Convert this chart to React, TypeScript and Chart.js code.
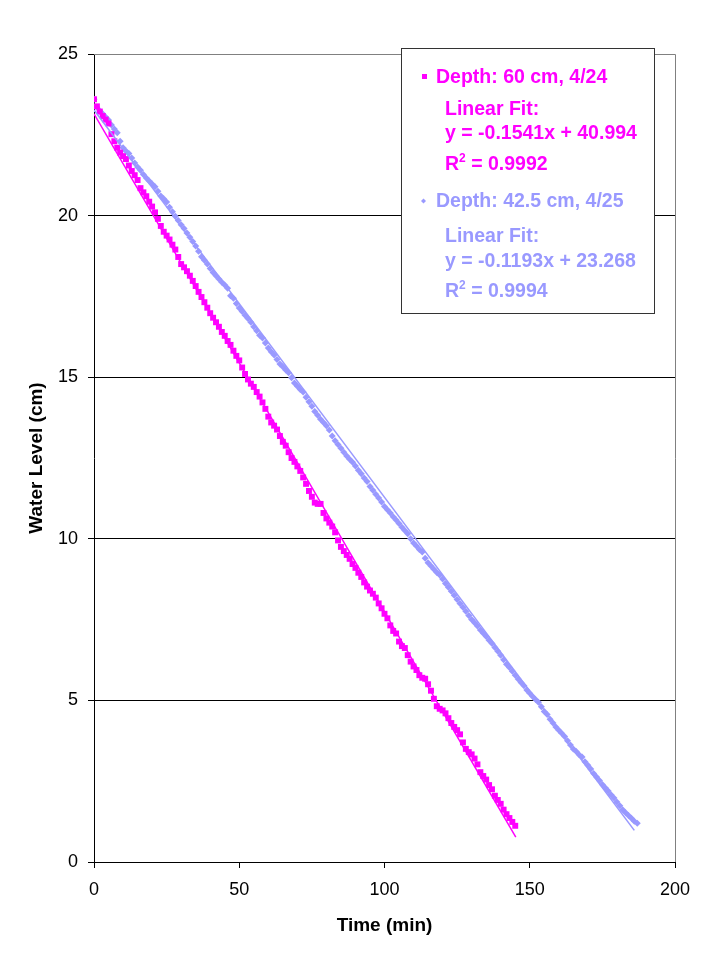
import React, { useEffect, useRef } from 'react';
import { Chart, registerables, Plugin } from 'chart.js';

Chart.register(...registerables);

const MAGENTA = '#FF00FF';
const LAVENDER = '#9999FF';

// water level (cm), one reading per minute from t = 0
// 60 cm, 4/24
const levelA = [
  23.6, 23.38, 23.22, 23.08, 22.97, 22.85, 22.52, 22.3, 22.1, 21.95,
  21.84, 21.75, 21.55, 21.38, 21.25, 21.1, 20.85, 20.72, 20.6, 20.43,
  20.28, 20.1, 19.9, 19.68, 19.5, 19.38, 19.26, 19.1, 18.95, 18.72,
  18.5, 18.4, 18.28, 18.14, 17.98, 17.82, 17.64, 17.48, 17.32, 17.15,
  16.98, 16.84, 16.7, 16.56, 16.4, 16.28, 16.12, 16.0, 15.82, 15.66,
  15.52, 15.3, 15.1, 14.93, 14.8, 14.7, 14.54, 14.4, 14.22, 14.02,
  13.78, 13.6, 13.5, 13.38, 13.18, 13.0, 12.88, 12.68, 12.5, 12.38,
  12.24, 12.1, 11.9, 11.7, 11.48, 11.3, 11.12, 11.08, 11.08, 10.8,
  10.63, 10.5, 10.38, 10.2, 9.95, 9.75, 9.62, 9.5, 9.38, 9.22,
  9.1, 8.95, 8.82, 8.65, 8.52, 8.4, 8.3, 8.18, 8.0, 7.85,
  7.68, 7.54, 7.32, 7.15, 7.07, 6.82, 6.68, 6.62, 6.4, 6.2,
  6.05, 5.94, 5.78, 5.7, 5.67, 5.5, 5.3, 5.05, 4.82, 4.74,
  4.69, 4.6, 4.45, 4.3, 4.18, 4.08, 3.95, 3.7, 3.5, 3.4,
  3.33, 3.2, 3.02, 2.78, 2.66, 2.55, 2.38, 2.25, 2.05, 1.92,
  1.8, 1.62, 1.48, 1.36, 1.24, 1.12,
];

// 42.5 cm, 4/25
const levelB = [
  23.6, 23.35, 23.24, 23.15, 23.05, 22.96, 22.8, 22.68, 22.56, 22.3,
  22.1, 22.0, 21.92, 21.78, 21.63, 21.5, 21.4, 21.27, 21.16, 21.07,
  20.98, 20.89, 20.75, 20.61, 20.52, 20.42, 20.26, 20.12, 19.98, 19.85,
  19.72, 19.6, 19.46, 19.33, 19.2, 19.06, 18.9, 18.73, 18.62, 18.5,
  18.36, 18.24, 18.14, 18.04, 17.94, 17.85, 17.75, 17.52, 17.44, 17.28,
  17.14, 17.03, 16.92, 16.82, 16.7, 16.56, 16.44, 16.3, 16.21, 16.06,
  15.9, 15.79, 15.69, 15.55, 15.41, 15.32, 15.22, 15.14, 14.98, 14.82,
  14.72, 14.62, 14.54, 14.38, 14.24, 14.1, 13.94, 13.82, 13.7, 13.6,
  13.5, 13.37, 13.18, 13.03, 12.92, 12.8, 12.68, 12.56, 12.46, 12.37,
  12.25, 12.12, 12.01, 11.88, 11.77, 11.62, 11.5, 11.38, 11.26, 11.14,
  11.0, 10.9, 10.8, 10.68, 10.58, 10.47, 10.36, 10.26, 10.16, 10.0,
  9.87, 9.78, 9.67, 9.59, 9.4, 9.26, 9.16, 9.06, 8.96, 8.88,
  8.76, 8.62, 8.5, 8.38, 8.25, 8.12, 8.0, 7.88, 7.76, 7.63,
  7.5, 7.4, 7.3, 7.18, 7.08, 6.98, 6.86, 6.76, 6.64, 6.52,
  6.4, 6.26, 6.12, 6.02, 5.9, 5.78, 5.66, 5.55, 5.45, 5.32,
  5.22, 5.12, 5.03, 4.94, 4.8, 4.66, 4.56, 4.42, 4.3, 4.18,
  4.08, 3.98, 3.88, 3.75, 3.62, 3.5, 3.42, 3.32, 3.25, 3.1,
  2.99, 2.88, 2.74, 2.63, 2.52, 2.4, 2.3, 2.2, 2.08, 1.98,
  1.86, 1.74, 1.62, 1.52, 1.44, 1.35, 1.26, 1.2,
];

// trendline end points as drawn
const fitTimeA = [0, 145.2];
const fitLevelA = [23.15, 0.77];
const fitTimeB = [0, 186];
const fitLevelB = [23.27, 0.98];

const legendLinesA = ['Depth: 60 cm, 4/24', 'Linear Fit:', 'y = -0.1541x + 40.994', 'R2 = 0.9992'];
const legendLinesB = ['Depth: 42.5 cm, 4/25', 'Linear Fit:', 'y = -0.1193x + 23.268', 'R2 = 0.9994'];

const FONT = '"Liberation Sans", Arial, sans-serif';
const LEGEND_FONT = `bold 19.5px ${FONT}`;

const toPoints = (ys: number[]) => ys.map((y, i) => ({ x: i, y }));
const toLine = (xs: number[], ys: number[]) => xs.map((x, i) => ({ x, y: ys[i] }));

const drawR2 = (ctx: CanvasRenderingContext2D, text: string, x: number, y: number) => {
  // "R2 = ..." with superscript 2
  const rest = text.slice(2);
  ctx.font = LEGEND_FONT;
  ctx.fillText('R', x, y);
  let w = ctx.measureText('R').width;
  ctx.font = `bold 12px ${FONT}`;
  ctx.fillText('2', x + w, y - 8);
  w += ctx.measureText('2').width;
  ctx.font = LEGEND_FONT;
  ctx.fillText(rest, x + w, y);
};

const framePlugin: Plugin = {
  id: 'frame',
  beforeDatasetsDraw(chart) {
    const { ctx, chartArea } = chart;
    ctx.save();
    ctx.strokeStyle = '#808080';
    ctx.lineWidth = 1;
    ctx.beginPath();
    ctx.moveTo(chartArea.left, chartArea.top + 0.5);
    ctx.lineTo(chartArea.right + 0.5, chartArea.top + 0.5);
    ctx.lineTo(chartArea.right + 0.5, chartArea.bottom);
    ctx.stroke();
    ctx.restore();
  },
};

const legendPlugin: Plugin = {
  id: 'boxLegend',
  afterDraw(chart) {
    const { ctx } = chart;
    ctx.save();
    ctx.fillStyle = '#ffffff';
    ctx.fillRect(401, 48, 253, 265);
    ctx.strokeStyle = '#333333';
    ctx.lineWidth = 1;
    ctx.strokeRect(401.5, 48.5, 253, 265);

    ctx.textBaseline = 'alphabetic';
    ctx.textAlign = 'left';

    ctx.fillStyle = MAGENTA;
    ctx.fillRect(422, 74, 5, 5);
    ctx.font = LEGEND_FONT;
    ctx.fillText(legendLinesA[0], 436, 83);
    ctx.fillText(legendLinesA[1], 445, 115);
    ctx.fillText(legendLinesA[2], 445, 139);
    drawR2(ctx, legendLinesA[3], 445, 170);

    ctx.fillStyle = LAVENDER;
    ctx.beginPath();
    ctx.moveTo(423.5, 198.5);
    ctx.lineTo(426, 201);
    ctx.lineTo(423.5, 203.5);
    ctx.lineTo(421, 201);
    ctx.closePath();
    ctx.fill();
    ctx.font = LEGEND_FONT;
    ctx.fillText(legendLinesB[0], 436, 207);
    ctx.fillText(legendLinesB[1], 445, 242);
    ctx.fillText(legendLinesB[2], 445, 267);
    drawR2(ctx, legendLinesB[3], 445, 297);
    ctx.restore();
  },
};

const App: React.FC = () => {
  const canvasRef = useRef<HTMLCanvasElement>(null);

  useEffect(() => {
    const canvas = canvasRef.current;
    let chart: Chart | null = null;

    if (canvas) {
      chart = new Chart(canvas, {
        type: 'scatter',
        data: {
          datasets: [
            {
              label: 'Fit 4/24',
              type: 'line',
              data: toLine(fitTimeA, fitLevelA),
              borderColor: MAGENTA,
              borderWidth: 1.5,
              pointRadius: 0,
              fill: false,
            },
            {
              label: 'Fit 4/25',
              type: 'line',
              data: toLine(fitTimeB, fitLevelB),
              borderColor: LAVENDER,
              borderWidth: 1.5,
              pointRadius: 0,
              fill: false,
            },
            {
              label: legendLinesA[0],
              data: toPoints(levelA),
              pointStyle: 'rect',
              pointRadius: 4.2,
              pointBorderWidth: 0,
              backgroundColor: MAGENTA,
              borderColor: MAGENTA,
            },
            {
              label: legendLinesB[0],
              data: toPoints(levelB),
              pointStyle: 'rectRot',
              pointRadius: 3.5,
              pointBorderWidth: 0,
              backgroundColor: LAVENDER,
              borderColor: LAVENDER,
            },
          ],
        },
        options: {
          animation: false,
          responsive: true,
          maintainAspectRatio: false,
          layout: { padding: { left: 0, top: 54, right: 50, bottom: 0 } },
          plugins: {
            legend: { display: false },
            tooltip: { enabled: false },
          },
          scales: {
            x: {
              type: 'linear',
              min: 0,
              max: 200,
              afterFit: (scale) => {
                scale.height = 106;
              },
              ticks: {
                stepSize: 50,
                color: '#000',
                padding: 11,
                maxRotation: 0,
                font: { family: FONT, size: 18 },
              },
              grid: {
                drawOnChartArea: false,
                drawTicks: true,
                tickLength: 6,
                color: '#000',
              },
              border: { color: '#000', width: 1 },
              title: {
                display: true,
                text: 'Time (min)',
                color: '#000',
                font: { family: FONT, size: 19, weight: 'bold' },
                padding: { top: 0, bottom: 31 },
              },
            },
            y: {
              type: 'linear',
              min: 0,
              max: 25,
              afterFit: (scale) => {
                scale.width = 94;
              },
              ticks: {
                stepSize: 5,
                color: '#000',
                padding: 10,
                font: { family: FONT, size: 18 },
              },
              grid: {
                drawTicks: true,
                tickLength: 6,
                color: (c) => (c.tick && c.tick.value === 25 ? '#808080' : '#000'),
                tickColor: '#000',
              },
              border: { color: '#000', width: 1 },
              title: {
                display: true,
                text: 'Water Level (cm)',
                color: '#000',
                font: { family: FONT, size: 19, weight: 'bold' },
                padding: { top: 25, bottom: 0 },
              },
            },
          },
        },
        plugins: [framePlugin, legendPlugin],
      });
    }

    return () => {
      if (chart) {
        chart.destroy();
      }
    };
  }, []);

  return (
    <div style={{ position: 'absolute', left: 0, top: 0, width: 725, height: 968, background: '#fff' }}>
      <canvas ref={canvasRef}></canvas>
    </div>
  );
};

export default App;
